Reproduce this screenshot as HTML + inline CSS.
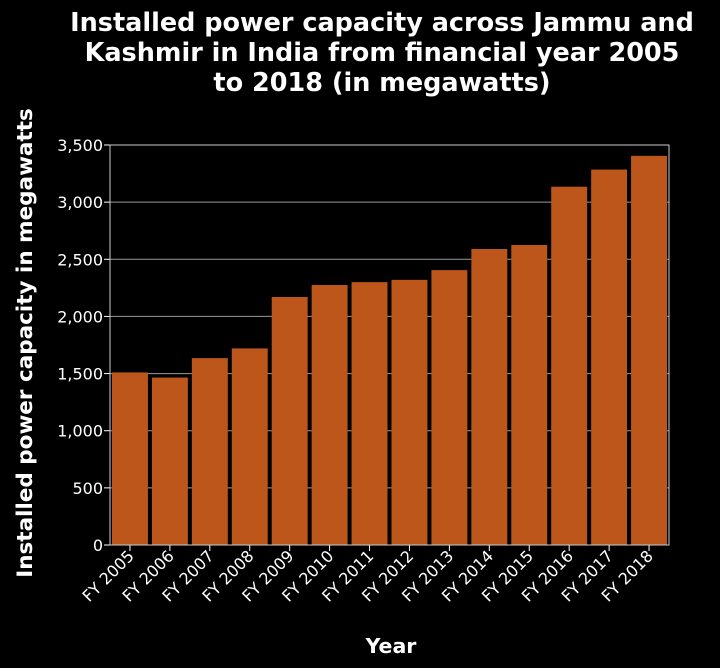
<!DOCTYPE html>
<html><head><meta charset="utf-8"><style>
body{margin:0;background:#000;}
svg{display:block;font-family:"DejaVu Sans","Liberation Sans",sans-serif;}
</style></head><body>
<svg id="chart" width="720" height="668">
<text x="382" y="31" fill="#fff" font-size="25.5" font-weight="bold" text-anchor="middle"><tspan x="382" y="31">Installed power capacity across Jammu and</tspan><tspan x="382" y="61">Kashmir in India from financial year 2005</tspan><tspan x="382" y="91">to 2018 (in megawatts)</tspan></text>
<text transform="translate(32,343) rotate(-90)" fill="#fff" font-size="21.5" font-weight="bold" text-anchor="middle">Installed power capacity in megawatts</text>
<text x="391" y="653" fill="#fff" font-size="20.5" font-weight="bold" text-anchor="middle">Year</text>
<g id="grid"></g><g id="bars"></g><g id="axes"></g>
</svg>
<script>
const categories=["FY 2005","FY 2006","FY 2007","FY 2008","FY 2009","FY 2010","FY 2011","FY 2012","FY 2013","FY 2014","FY 2015","FY 2016","FY 2017","FY 2018"];
const values=[1510,1465,1635,1720,2170,2275,2300,2320,2405,2590,2625,3135,3285,3405];
const yTicks=[0,500,1000,1500,2000,2500,3000,3500];
const yTickLabels=["0","500","1,000","1,500","2,000","2,500","3,000","3,500"];
const NS="http://www.w3.org/2000/svg";
const L=110,R=669,T=145,B=545,yMax=3500;
const y=v=>B-(v/yMax)*(B-T);
const band=(R-L)/categories.length;
const x=i=>L+i*band;
function mk(tag,attrs,parent){const e=document.createElementNS(NS,tag);for(const k in attrs)e.setAttribute(k,attrs[k]);document.getElementById(parent).appendChild(e);return e;}
yTicks.forEach((t,i)=>{
  const g=mk('line',{x1:L,x2:R,y1:y(t),y2:y(t),stroke:'#999','stroke-width':1},'grid');
  
  
  const tk=mk('line',{x1:L-6,x2:L,y1:y(t),y2:y(t),stroke:'#fff'},'axes');
  
  
  const lb=mk('text',{x:L-7,y:y(t)+6,fill:'#fff','font-size':16,'text-anchor':'end'},'axes');
  lb.textContent=yTickLabels[i];
  
  
});
values.forEach((v,i)=>{
  const r=mk('rect',{x:x(i)+2,y:y(v),width:band-4,height:B-y(v),fill:'#bd561b'},'bars');
  
  
  const cx=x(i)+band/2;
  const tk=mk('line',{x1:cx,x2:cx,y1:B,y2:B+6,stroke:'#fff'},'axes');
  
  
  const lb=mk('text',{transform:`translate(${cx+5},${B+12}) rotate(-45)`,fill:'#fff','font-size':16,'text-anchor':'end'},'axes');
  lb.textContent=categories[i];
  
  
});
const f=mk('rect',{x:L,y:T,width:R-L,height:B-T,fill:'none',stroke:'#ccc','stroke-width':1},'axes');


</script>
</body></html>
